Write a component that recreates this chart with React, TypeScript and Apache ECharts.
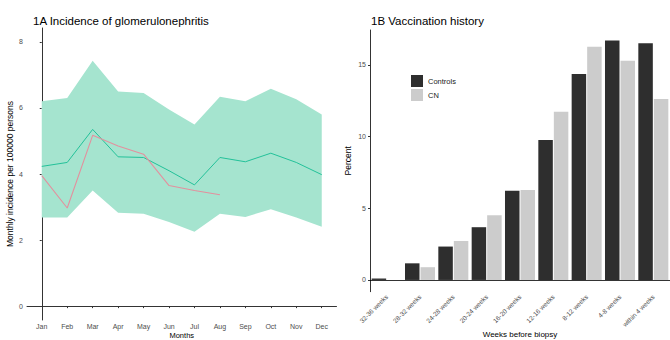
import React, { useEffect, useRef } from "react";
import * as echarts from "echarts";

const months = ["Jan", "Feb", "Mar", "Apr", "May", "Jun", "Jul", "Aug", "Sep", "Oct", "Nov", "Dec"];
const expected = [4.23, 4.35, 5.35, 4.52, 4.5, 4.1, 3.67, 4.5, 4.37, 4.63, 4.35, 3.98];
const bandLower = [2.68, 2.68, 3.5, 2.83, 2.8, 2.55, 2.25, 2.8, 2.7, 2.93, 2.68, 2.4];
const bandUpper = [6.2, 6.3, 7.43, 6.5, 6.45, 5.95, 5.5, 6.34, 6.2, 6.58, 6.26, 5.8];
const observed = [3.95, 2.97, 5.17, 4.85, 4.6, 3.65, 3.5, 3.37];
const leftTicks = [0, 2, 4, 6, 8];

const weekCats = ["32-36 weeks", "28-32 weeks", "24-28 weeks", "20-24 weeks", "16-20 weeks", "12-16 weeks", "8-12 weeks", "4-8 weeks", "within 4 weeks"];
const controls = [0.1, 1.16, 2.33, 3.68, 6.23, 9.77, 14.37, 16.7, 16.51];
const cn = [0, 0.89, 2.72, 4.51, 6.28, 11.74, 16.28, 15.3, 12.63];
const rightTicks = [0, 5, 10, 15];

const FONT = "Liberation Sans, Arial, sans-serif";

export default function App() {
  const ref = useRef<HTMLDivElement>(null);
  useEffect(() => {
    if (!ref.current) return;
    const chart = echarts.init(ref.current, null, { renderer: "svg" });
    const monthIdx = months.map((_, i) => i);
    const axisLabelStyle = { color: "#4d4d4d", fontSize: 7, fontFamily: FONT };
    const bandData = months.map((_, i) => [i, bandLower[i], bandUpper[i]]);
    chart.setOption({
      animation: false,
      textStyle: { fontFamily: FONT },
      title: [
        { text: "1A Incidence of glomerulonephritis", left: 28, top: 10, textStyle: { fontSize: 11.5, fontWeight: "normal", color: "#000", fontFamily: FONT } },
        { text: "1B Vaccination history", left: 366, top: 10, textStyle: { fontSize: 11.5, fontWeight: "normal", color: "#000", fontFamily: FONT } },
      ],
      legend: {
        data: ["Controls", "CN"],
        left: 406,
        top: 70,
        orient: "vertical",
        itemWidth: 12,
        itemHeight: 12,
        itemGap: 2,
        icon: "rect",
        textStyle: { fontSize: 7.5, color: "#222", fontFamily: FONT },
      },
      grid: [
        { left: 27, top: 28, width: 309.5, height: 292, outerBoundsMode: "none", containLabel: false },
        { left: 370, top: 30, width: 300, height: 261.7, outerBoundsMode: "none", containLabel: false },
      ],
      xAxis: [
        {
          type: "value",
          gridIndex: 0,
          min: -0.58,
          max: 11.58,
          splitLine: { show: false },
          axisLine: { lineStyle: { color: "#000", width: 0.8 } },
          axisTick: { customValues: monthIdx, length: 2, lineStyle: { color: "#333" } },
          axisLabel: { customValues: monthIdx, formatter: (v: number) => months[Math.round(v)], margin: 2.5, ...axisLabelStyle },
          name: "Months",
          nameLocation: "middle",
          nameGap: 11.5,
          nameMoveOverlap: false,
          nameTextStyle: { fontSize: 7.5, color: "#000", fontFamily: FONT },
        },
        {
          type: "category",
          gridIndex: 1,
          data: weekCats,
          axisLine: { lineStyle: { color: "#000", width: 0.8 } },
          axisTick: { alignWithLabel: true, length: 2, lineStyle: { color: "#333" } },
          axisLabel: { rotate: 45, margin: 4, interval: 0, ...axisLabelStyle, fontSize: 6.5 },
          name: "Weeks before biopsy",
          nameLocation: "middle",
          nameGap: 39,
          nameMoveOverlap: false,
          nameTextStyle: { fontSize: 8, color: "#000", fontFamily: FONT },
        },
      ],
      yAxis: [
        {
          type: "value",
          gridIndex: 0,
          min: -0.42,
          max: 8.42,
          splitLine: { show: false },
          axisLine: { show: true, lineStyle: { color: "#000", width: 0.8 } },
          axisTick: { show: true, customValues: leftTicks, length: 2, lineStyle: { color: "#333" } },
          axisLabel: { customValues: leftTicks, margin: 4, ...axisLabelStyle },
          name: "Monthly incidence per 100000 persons",
          nameLocation: "middle",
          nameGap: 13,
          nameMoveOverlap: false,
          nameTextStyle: { fontSize: 8.5, color: "#000", fontFamily: FONT },
        },
        {
          type: "value",
          gridIndex: 1,
          min: -0.82,
          max: 17.44,
          splitLine: { show: false },
          axisLine: { show: true, lineStyle: { color: "#000", width: 0.8 } },
          axisTick: { show: true, customValues: rightTicks, length: 2, lineStyle: { color: "#333" } },
          axisLabel: { customValues: rightTicks, margin: 4, ...axisLabelStyle },
          name: "Percent",
          nameLocation: "middle",
          nameGap: 18,
          nameMoveOverlap: false,
          nameTextStyle: { fontSize: 8.5, color: "#000", fontFamily: FONT },
        },
      ],
      series: [
        {
          type: "custom",
          xAxisIndex: 0,
          yAxisIndex: 0,
          data: bandData,
          encode: { x: 0, y: [1, 2] },
          silent: true,
          renderItem: (params: any, api: any) => {
            if (params.dataIndex !== 0) return null;
            const pts: number[][] = [];
            for (let i = 0; i < bandData.length; i++) pts.push(api.coord([bandData[i][0], bandData[i][2]]));
            for (let i = bandData.length - 1; i >= 0; i--) pts.push(api.coord([bandData[i][0], bandData[i][1]]));
            return { type: "polygon", shape: { points: pts }, style: { fill: "#a5e4cf" } };
          },
        },
        {
          type: "line",
          xAxisIndex: 0,
          yAxisIndex: 0,
          data: expected.map((v, i) => [i, v]),
          lineStyle: { color: "#23c199", width: 1 },
          symbol: "none",
        },
        {
          type: "line",
          xAxisIndex: 0,
          yAxisIndex: 0,
          data: observed.map((v, i) => [i, v]),
          lineStyle: { color: "#e3909e", width: 1.1 },
          symbol: "none",
        },
        {
          name: "Controls",
          type: "bar",
          xAxisIndex: 1,
          yAxisIndex: 1,
          data: controls,
          barWidth: 14.5,
          barGap: "7%",
          itemStyle: { color: "#2e2e2e" },
        },
        {
          name: "CN",
          type: "bar",
          xAxisIndex: 1,
          yAxisIndex: 1,
          data: cn,
          barWidth: 14.5,
          barGap: "7%",
          itemStyle: { color: "#cccccc" },
        },
      ],
    });
    return () => chart.dispose();
  }, []);
  return <div ref={ref} style={{ position: "fixed", left: 0, top: 0, width: 670, height: 340, background: "#fff" }} />;
}
